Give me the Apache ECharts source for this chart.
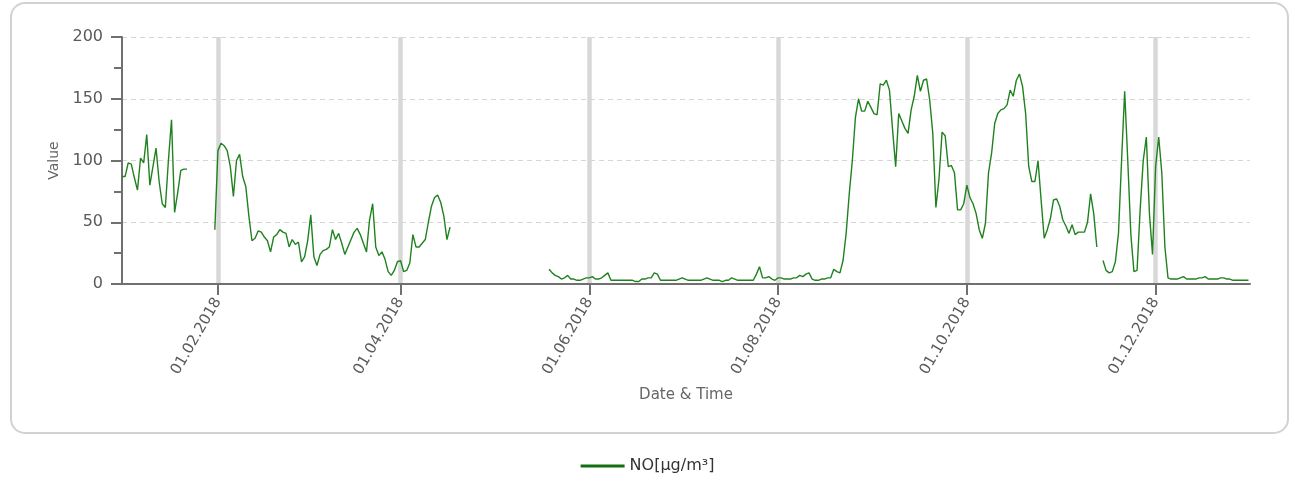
<!DOCTYPE html>
<html>
<head>
<meta charset="utf-8">
<script src="https://cdn.jsdelivr.net/npm/echarts@6/dist/echarts.min.js"></script>
<style>
html,body{margin:0;padding:0;background:#fff;}
#chart{width:1295px;height:482px;}
</style>
</head>
<body>
<div id="chart"></div>
<script>
// Daily NO values for 2018 (null = no data)
const jan = [87,87,98,97,86,76,102,98,121,80,95,110,83,65,62,100,133,58,74,92,93,93,null,null,null,null,null,null,null,null,44];
const feb = [108,114,112,108,95,71,100,105,87,79,55,35,37,43,42,38,35,26,38,40,44,42,41,30,36,32,34,18];
const mar = [22,35,56,22,15,24,27,28,30,44,36,41,33,24,30,36,42,45,40,33,26,52,65,30,23,26,20,10,7,11,18];
const apr = [19,10,11,17,40,30,30,33,36,50,63,70,72,66,55,36,46,null,null,null,null,null,null,null,null,null,null,null,null,null];
const may = [null,null,null,null,null,null,null,null,null,null,null,null,null,null,null,null,null,null,12,9,7,6,4,5,7,4,4,3,3,4,5];
const jun = [5,6,4,4,5,7,9,3,3,3,3,3,3,3,3,2,2,4,4,5,5,9,8,3,3,3,3,3,3,4];
const jul = [5,4,3,3,3,3,3,4,5,4,3,3,3,2,3,3,5,4,3,3,3,3,3,3,8,14,5,5,6,4,3];
const aug = [5,5,4,4,4,5,5,7,6,8,9,4,3,3,4,4,5,5,12,10,9,19,41,73,100,135,150,140,140,148,143];
const sep = [138,137,162,161,165,157,125,95,138,132,126,122,141,152,169,156,165,166,149,122,62,85,123,120,95,96,90,60,60,65];
const oct = [80,70,65,57,44,37,49,90,106,130,138,141,142,145,157,152,165,170,160,138,95,83,83,100,68,37,44,53,68,69,63];
const nov = [52,47,41,48,40,42,42,42,50,73,57,30,null,19,11,9,10,18,41,100,156,100,40,10,11,60,100,119,57,24];
const dec = [95,119,90,30,5,4,4,4,5,6,4,4,4,4,5,5,6,4,4,4,4,5,5,4,4,3,3,3,3,3,3];

const tickDates = ['2018-02-01','2018-04-01','2018-06-01','2018-08-01','2018-10-01','2018-12-01'];
const yTicks = [0,50,100,150,200];

const DAY = 86400000;
function ts(y,m,d){ return new Date(y,m,d).getTime(); }
function parseD(s){ const p=s.split('-').map(Number); return ts(p[0],p[1]-1,p[2]); }
function pad(n){ return (n<10?'0':'')+n; }

const allValues = [].concat(jan,feb,mar,apr,may,jun,jul,aug,sep,oct,nov,dec);
const seriesData = allValues.map((v,i)=>[ts(2018,0,1+i), v]);
const tickValues = tickDates.map(parseD);

const FONT = 'DejaVu Sans';
const chart = echarts.init(document.getElementById('chart'));
chart.setOption({
  backgroundColor:'#fff',
  animation:false,
  graphic:[{
    type:'rect', left:10, top:2, z:-1, silent:true,
    shape:{width:1277,height:430,r:14},
    style:{fill:'transparent',stroke:'#d2d2d2',lineWidth:2}
  }],
  grid:{left:122,right:45,top:37,bottom:198,containLabel:false},
  legend:{
    bottom:3,left:'center',
    icon:'rect',itemWidth:44,itemHeight:3,itemGap:10,
    textStyle:{fontFamily:FONT,fontSize:16,color:'#333'},
    data:['NO[µg/m³]']
  },
  xAxis:{
    type:'value',
    min:ts(2018,0,1),
    max:ts(2018,11,31)+DAY/2,
    name:'Date & Time',
    nameLocation:'middle',
    nameGap:104,
    nameTextStyle:{fontFamily:FONT,fontSize:15,color:'#666'},
    axisLine:{show:true,lineStyle:{color:'#707070',width:2}},
    axisTick:{show:true,length:11,lineStyle:{color:'#707070',width:2},customValues:tickValues},
    axisLabel:{
      rotate:60,margin:15,fontFamily:FONT,fontSize:15,color:'#5a5a5a',
      customValues:tickValues,
      formatter:function(v){const d=new Date(v);return pad(d.getDate())+'.'+pad(d.getMonth()+1)+'.'+d.getFullYear();}
    },
    splitLine:{show:true,lineStyle:{color:'#d8d8d8',width:4.5}}
  },
  yAxis:{
    type:'value',min:0,max:200,interval:50,
    name:'Value',nameLocation:'middle',nameGap:58,nameRotate:90,
    nameTextStyle:{fontFamily:FONT,fontSize:14,color:'#666'},
    axisLine:{show:true,lineStyle:{color:'#707070',width:2}},
    axisTick:{show:true,length:11,lineStyle:{color:'#707070',width:2}},
    minorTick:{show:true,splitNumber:2,length:8,lineStyle:{color:'#707070',width:2}},
    axisLabel:{margin:19,fontFamily:FONT,fontSize:16,color:'#5a5a5a'},
    splitLine:{show:true,lineStyle:{color:'#d6d6d6',width:1,type:[5,4]}}
  },
  series:[{
    name:'NO[µg/m³]',
    type:'line',
    data:seriesData,
    showSymbol:false,
    symbol:'none',
    connectNulls:false,
    color:'#116e11',
    lineStyle:{color:'#1f821f',width:1.4}
  }]
});
</script>
</body>
</html>
